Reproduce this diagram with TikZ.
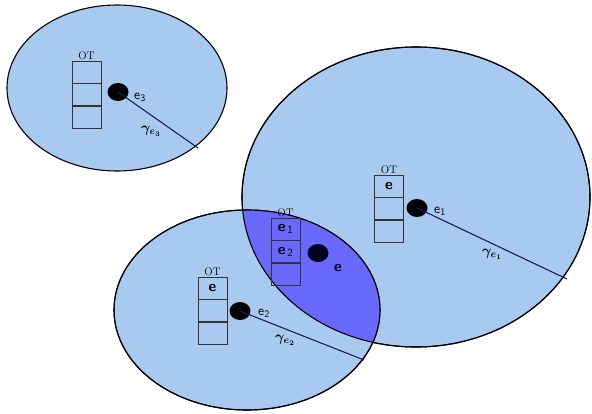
\documentclass[tikz,border=0pt]{standalone}
\usepackage{amsmath,amssymb}
\usetikzlibrary{positioning,shapes.geometric}

\definecolor{zoneblue}{RGB}{168,202,240}
\definecolor{overlap}{RGB}{104,104,250}
\definecolor{radline}{RGB}{28,28,90}

\begin{document}
\begin{tikzpicture}[
  x=1pt, y=-1pt,
  zone/.style={draw=black, line width=1.1pt, fill=zoneblue},
  rim/.style={draw=black, line width=1.1pt},
  cell/.style={draw=black!80, line width=0.8pt, minimum width=29pt, minimum height=22pt, inner sep=0pt, font=\fontsize{15}{15}\sffamily\bfseries},
  ot/.style={inner sep=1pt, font=\fontsize{11}{12}\selectfont},
  dot/.style={ellipse, fill=black, minimum width=21pt, minimum height=18pt, inner sep=0pt},
  lab/.style={inner sep=1pt, font=\fontsize{14}{14}\sffamily},
  glab/.style={inner sep=1pt, font=\fontsize{14}{14}\selectfont\boldmath},
  rad/.style={draw=radline, line width=1.1pt}
]
\useasboundingbox (0,0) rectangle (592,413);

% zones
\draw[zone] (117,88) ellipse [x radius=110pt, y radius=83pt];
\draw[zone] (416,197) ellipse [x radius=174pt, y radius=150pt];
\draw[zone] (247,310) ellipse [x radius=133pt, y radius=100pt];
\begin{scope}
  \clip (416,197) ellipse [x radius=174pt, y radius=150pt];
  \fill[overlap] (247,310) ellipse [x radius=133pt, y radius=100pt];
\end{scope}
\draw[rim] (416,197) ellipse [x radius=174pt, y radius=150pt];
\draw[rim] (247,310) ellipse [x radius=133pt, y radius=100pt];

% rim points of the radii
\coordinate (rim3) at (198,148);
\coordinate (rim1) at (567,279);
\coordinate (rim2) at (364,360);

% table e3
\node[cell] (t3a) at (86.5,72) {};
\node[cell, below=0pt of t3a] (t3b) {};
\node[cell, below=0pt of t3b] (t3c) {};
\node[ot, above=0pt of t3a] (ot3) {OT};
\node[dot] (d3) at (118,92) {};
\node[lab, anchor=west] (l3) at (133,97) {e$_{\mathsf{3}}$};
\draw[rad] (d3.center) -- (rim3);
\node[glab] (g3) at (151,131) {$\gamma_{e_3}$};

% table e1
\node[cell] (t1a) at (389,186) {e};
\node[cell, below=0pt of t1a] (t1b) {};
\node[cell, below=0pt of t1b] (t1c) {};
\node[ot, above=0pt of t1a] (ot1) {OT};
\node[dot] (d1) at (417,208) {};
\node[lab, anchor=west] (l1) at (433,211) {e$_{\mathsf{1}}$};
\draw[rad] (d1.center) -- (rim1);
\node[glab] (g1) at (492,254) {$\gamma_{e_1}$};

% table e (overlap)
\node[cell] (tea) at (285.5,229) {e$_{\,\mathsf{1}}$};
\node[cell, below=0pt of tea] (teb) {e$_{\,\mathsf{2}}$};
\node[cell, below=0pt of teb] (tec) {};
\node[ot, above=0pt of tea] (ote) {OT};
\node[dot, fill=black!85!blue] (de) at (318,253) {};
\node[cell, draw=none, anchor=west] (le) at (323,268) {e};

% table e2
\node[cell] (t2a) at (212.5,288) {e};
\node[cell, below=0pt of t2a] (t2b) {};
\node[cell, below=0pt of t2b] (t2c) {};
\node[ot, above=0pt of t2a] (ot2) {OT};
\node[dot] (d2) at (240,311) {};
\node[lab, anchor=west] (l2) at (257,313) {e$_{\mathsf{2}}$};
\draw[rad] (d2.center) -- (rim2);
\node[glab] (g2) at (285,340) {$\gamma_{e_2}$};
\end{tikzpicture}
\end{document}
